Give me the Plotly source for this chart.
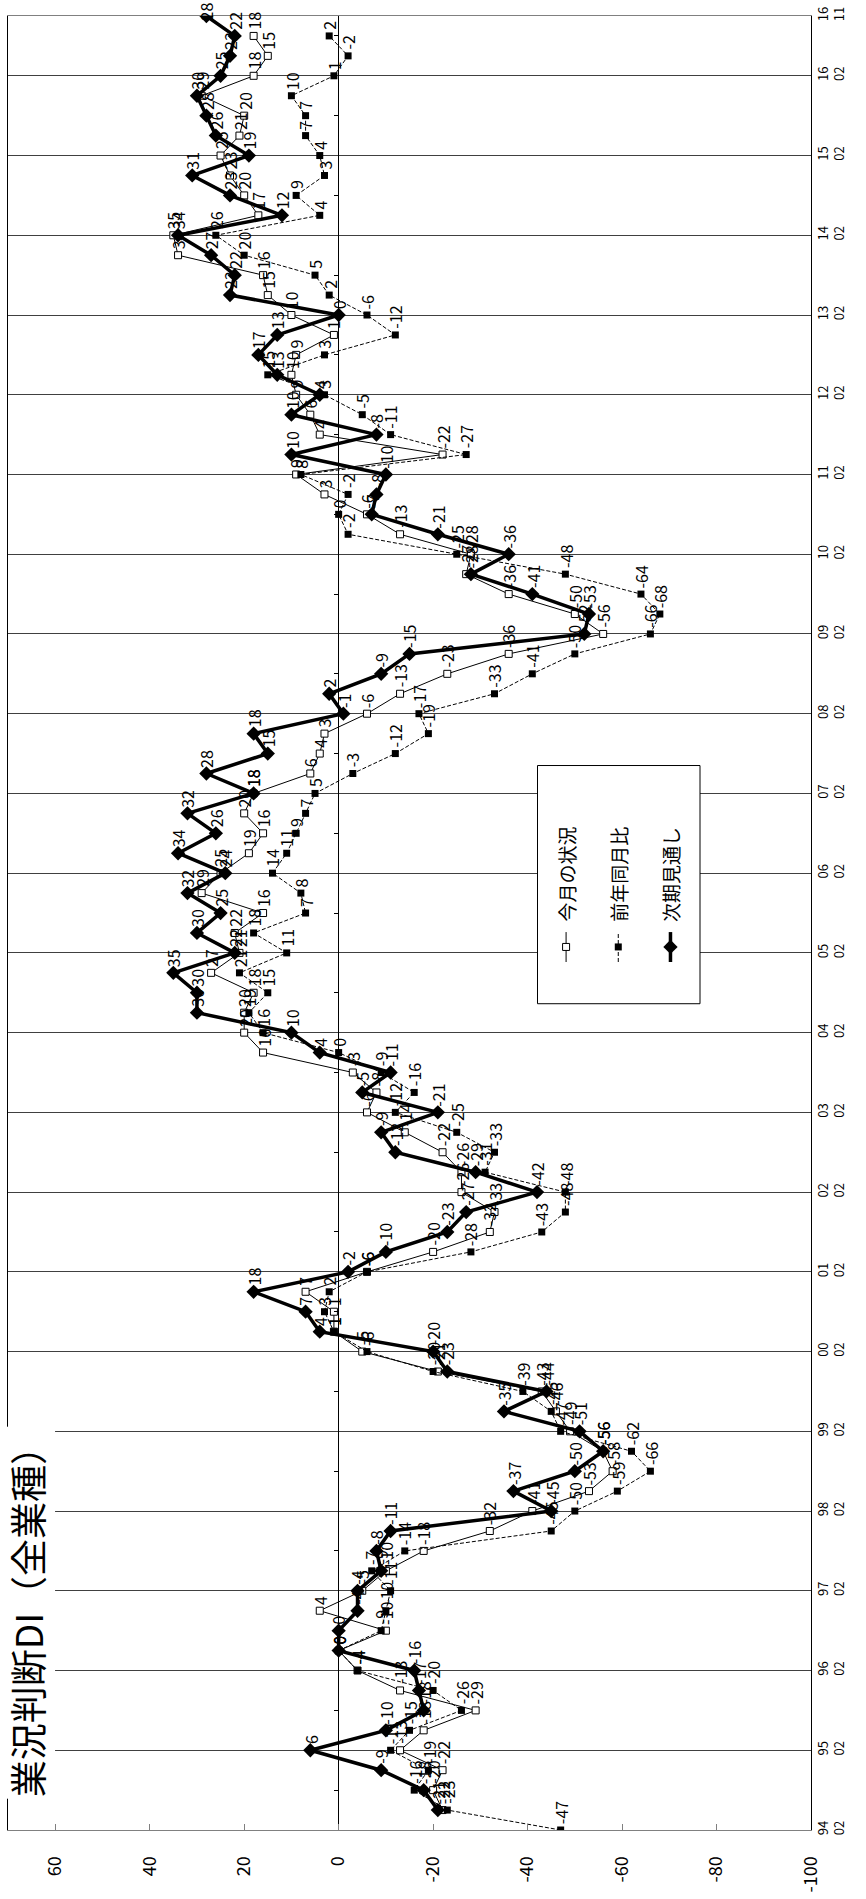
import plotly.graph_objects as go

FONT = "Noto Sans CJK JP"

# quarterly periods 94/02 ... 16/11 (index 0..91)
quarters = [f"{y:02d}/{m}" for y in list(range(94, 100)) + list(range(0, 17)) for m in ("02", "05", "08", "11")][:92]
tick_text = [f"{y:02d}<br>02" for y in list(range(94, 100)) + list(range(0, 17))] + ["16<br>11"]
tick_pos = [quarters.index(t.replace("<br>", "/")) for t in tick_text]
minor_pos = [p + 2 for p in tick_pos[:-1]]

# 今月の状況
current = [None, -22, -20, -22, -13, -18, -29, -13, -4, 0, -10, 4, -5, -10, -18, -32,
           -41, -53, -58, -56, -49, -46, -43, -21, -5, 1, 1, 7, -6, -20, -32, -33,
           -26, -26, -22, -14, -6, -8, -3, 16, 20, 20, 18, 27, 21, 22, 16, 29,
           25, 19, 16, 20, 18, 6, 4, 3, -6, -13, -23, -36, -56, -50, -36, -27,
           -28, -13, -6, 3, 9, -22, 4, 6, 9, 10, 9, 1, 10, 15, 16, 34,
           35, 17, 20, 23, 25, 21, 20, 29, 18, 15, 18, None]
# 前年同月比
yoy = [-47, -23, -16, -19, -11, -15, -26, -20, -4, 0, -9, -10, -11, -7, -14, -45,
       -50, -59, -66, -62, -47, -45, -39, -20, -6, 1, 3, 2, -6, -28, -43, -48,
       -48, -31, -33, -25, -12, -16, -9, 0, 16, 19, 15, 21, 11, 18, 7, 8,
       14, 11, 9, 7, 5, -3, -12, -19, -17, -33, -41, -50, -66, -68, -64, -48,
       -25, -2, 0, -2, 8, -27, -11, -5, 3, 15, 3, -12, -6, 2, 5, 20,
       26, 4, 9, 3, 4, 7, 7, 10, 1, -2, 2, None]
# 次期見通し
outlook = [None, -21, -18, -9, 6, -10, -18, -17, -16, 0, 0, -4, -4, -9, -8, -11,
           -45, -37, -50, -56, -51, -35, -44, -23, -20, 4, 7, 18, -2, -10, -23, -27,
           -42, -29, -12, -9, -21, -5, -11, 4, 10, 30, 30, 35, 22, 30, 25, 32,
           24, 34, 26, 32, 18, 28, 15, 18, -1, 2, -9, -15, -52, -53, -41, -28,
           -36, -21, -7, -8, -10, 10, -8, 10, 4, 13, 17, 13, 0, 23, 22, 27,
           34, 12, 23, 31, 19, 26, 28, 30, 25, 23, 22, 28]

series_names = ["今月の状況", "前年同月比", "次期見通し"]
value_ticks = [60, 40, 20, 0, -20, -40, -60, -80, -100]
title_text = "業況判断DI（全業種）"

idx = list(range(len(quarters)))

fig = go.Figure()

styles = [
    dict(line=dict(color="black", width=1), marker=dict(symbol="square", size=7, color="white",
                                                         line=dict(color="black", width=1))),
    dict(line=dict(color="black", width=1, dash="4px,2px"), marker=dict(symbol="square", size=7, color="black")),
    dict(line=dict(color="black", width=3.5), marker=dict(symbol="diamond", size=11, color="black")),
]
all_series = [current, yoy, outlook]

for name, vals, st in zip(series_names, all_series, styles):
    fig.add_trace(go.Scatter(x=vals, y=idx, mode="lines+markers", name=name,
                             connectgaps=False, hoverinfo="skip", **st))

annotations = []
for vals in all_series:
    for i, v in zip(idx, vals):
        if v is None:
            continue
        # the very last period sits at the top edge: pull its label in so it stays on the page
        shift = 4 if i < idx[-1] else -6
        annotations.append(dict(x=v, y=i, xref="x", yref="y", text=str(v), textangle=-90,
                                showarrow=False, xanchor="center", yanchor="bottom", yshift=shift,
                                font=dict(family=FONT, size=16, color="black")))

# title
annotations.append(dict(x=0.0235, y=0.12, xref="paper", yref="paper", text=title_text, textangle=-90,
                        showarrow=False, xanchor="center", yanchor="middle", bgcolor="white",
                        font=dict(family=FONT, size=37, color="black")))

# legend (drawn manually, rotated)
leg_x = [0.695, 0.760, 0.825]
for name, lx, st in zip(series_names, leg_x, styles):
    fig.add_trace(go.Scatter(x=[lx, lx], y=[0.4785, 0.495], xaxis="x2", yaxis="y2", mode="lines",
                             line=st["line"], hoverinfo="skip", showlegend=False))
    fig.add_trace(go.Scatter(x=[lx], y=[0.4868], xaxis="x2", yaxis="y2", mode="markers",
                             marker=st["marker"], hoverinfo="skip", showlegend=False))
    annotations.append(dict(x=lx, y=0.4995, xref="paper", yref="paper", text=name, textangle=-90,
                            showarrow=False, xanchor="center", yanchor="bottom",
                            font=dict(family=FONT, size=19, color="black")))

# minor ticks along the zero line
fig.add_trace(go.Scatter(x=[None], y=[None], yaxis="y3", showlegend=False, hoverinfo="skip"))

fig.update_layout(
    width=866, height=1899,
    margin=dict(l=7, r=55, t=16, b=67),
    paper_bgcolor="white", plot_bgcolor="white",
    showlegend=False,
    annotations=annotations,
    shapes=[dict(type="rect", xref="x", yref="y", x0=-42.1, x1=-76.5, y0=41.45, y1=53.4,
                 line=dict(color="black", width=1), fillcolor="white", layer="between")],
    xaxis=dict(range=[70, -100], tickvals=value_ticks, ticktext=[str(v) for v in value_ticks],
               tickangle=-90, ticks="inside", ticklen=6, tickcolor="#808080",
               showgrid=False, zeroline=True, zerolinecolor="black", zerolinewidth=1,
               showline=True, linecolor="#808080", linewidth=1, mirror=True,
               ticklabelstandoff=18,
               tickfont=dict(family=FONT, size=18, color="black")),
    yaxis=dict(range=[0, 91], side="right", tickvals=tick_pos, ticktext=tick_text, tickangle=-90,
               showgrid=True, gridcolor="#404040", gridwidth=1, zeroline=False,
               showline=True, linecolor="black", linewidth=1, mirror=True, ticks="",
               tickfont=dict(family=FONT, size=13, color="black")),
    xaxis2=dict(overlaying="x", range=[0, 1], visible=False, anchor="y2"),
    yaxis2=dict(overlaying="y", range=[0, 1], visible=False, anchor="x2"),
    yaxis3=dict(overlaying="y", anchor="free", position=70 / 170, side="left", range=[0, 91],
                tickvals=minor_pos, ticks="outside", ticklen=5, tickcolor="black",
                showticklabels=False, showgrid=False, zeroline=False, showline=False),
)

fig.write_html("out.html")
